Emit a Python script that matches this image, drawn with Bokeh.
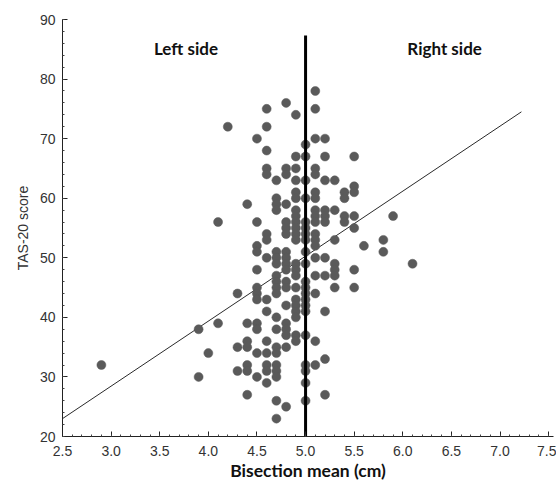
import numpy as np
from bokeh.plotting import figure
from bokeh.models import Range1d, FixedTicker, NumeralTickFormatter
from bokeh.core.properties import value
from bokeh.embed import file_html
from bokeh.resources import INLINE

# ---- data ----
col_x = [2.9, 3.9, 4.0, 4.1, 4.2, 4.3, 4.4, 4.5, 4.6, 4.7, 4.8, 4.9, 5.0, 5.1, 5.2, 5.3, 5.4, 5.5, 5.6, 5.8, 5.9, 6.1]
col_y = [
    [32],
    [38, 30],
    [34],
    [56, 39],
    [72],
    [44, 35, 31],
    [59, 39, 36, 35, 32, 31, 27],
    [70, 56, 52, 51, 48, 45, 44, 43, 39, 38, 34, 30],
    [75, 72, 68, 65, 64, 54, 53, 50, 43, 41, 36, 34, 32, 31, 29],
    [63, 60, 59, 58, 51, 50, 49, 47, 46, 45, 44, 40, 38, 35, 34, 32, 31, 30, 26, 23],
    [76, 65, 64, 59, 56, 55, 54, 51, 50, 49, 48, 46, 45, 42, 39, 38, 37, 35, 25],
    [74, 67, 65, 63, 61, 60, 58, 57, 56, 55, 54, 53, 49, 48, 47, 45, 43, 42, 41, 40, 37, 36],
    [69, 67, 63, 60, 56, 55, 54, 53, 51, 49, 46, 45, 44, 43, 42, 41, 37, 32, 31, 29, 26],
    [78, 75, 70, 65, 64, 61, 60, 58, 57, 56, 54, 53, 52, 50, 47, 44, 36, 32],
    [70, 67, 63, 58, 57, 56, 50, 47, 41, 33, 27],
    [63, 58, 53, 49, 48, 47, 45],
    [61, 60, 57, 56],
    [67, 62, 61, 57, 55, 48, 45],
    [52],
    [53, 51],
    [57],
    [49],
]
fit_x = [2.5, 7.22]
fit_y = [23.0, 74.5]
divide_x = 5.0
divide_top = 87.3
x_ticks = [2.5, 3.0, 3.5, 4.0, 4.5, 5.0, 5.5, 6.0, 6.5, 7.0, 7.5]
y_ticks = [20, 30, 40, 50, 60, 70, 80, 90]
side_labels = ["Left side", "Right side"]
side_label_x = [3.77, 6.43]
side_label_y = [85.1, 85.1]

xs, ys = [], []
for cx, cys in zip(col_x, col_y):
    for cy in cys:
        xs.append(cx)
        ys.append(cy)

p = figure(width=556, height=485, output_backend="svg", toolbar_location=None,
           x_range=Range1d(2.5, 7.55), y_range=Range1d(20, 90),
           min_border_left=62, min_border_right=3, min_border_top=19, min_border_bottom=49)
p.outline_line_color = None
p.xgrid.visible = False
p.ygrid.visible = False
p.background_fill_color = "white"
p.border_fill_color = "white"

# regression line
p.line(fit_x, fit_y, line_color="#2a2a2a", line_width=1)

# points
p.scatter(xs, ys, size=9, fill_color="#5a5a5a", line_color="#5a5a5a", line_width=0.5)

# dividing line
p.segment(x0=[divide_x], y0=[20], x1=[divide_x], y1=[divide_top], line_color="black", line_width=3)

# side labels
p.text(x=side_label_x, y=side_label_y, text=side_labels, text_font=value("Lato"),
       text_font_style="bold", text_font_size="17px", text_align="center",
       text_baseline="middle", text_color="#111111")

# axes
xmin = np.round(np.arange(2.5, 7.55, 0.1), 2).tolist()
ymin = list(range(20, 91, 2))
p.xaxis.ticker = FixedTicker(ticks=x_ticks, minor_ticks=xmin)
p.yaxis.ticker = FixedTicker(ticks=y_ticks, minor_ticks=ymin)
p.xaxis.formatter = NumeralTickFormatter(format="0.0")

for ax in (p.xaxis[0], p.yaxis[0]):
    ax.axis_line_color = "#222222"
    ax.axis_line_width = 1
    ax.major_tick_in = 5
    ax.major_tick_out = 0
    ax.minor_tick_in = 2
    ax.minor_tick_out = 0
    ax.major_tick_line_color = "#222222"
    ax.minor_tick_line_color = "#444444"
    ax.major_label_text_font = "Arial"
    ax.major_label_text_font_size = "14px"
    ax.major_label_text_color = "#333333"

p.yaxis.major_label_standoff = 7
p.xaxis.major_label_standoff = 9
p.yaxis.axis_label = "TAS-20 score"
p.yaxis.axis_label_text_font = "Arial"
p.yaxis.axis_label_text_font_size = "14px"
p.yaxis.axis_label_text_font_style = "normal"
p.yaxis.axis_label_text_color = "#333333"
p.yaxis.axis_label_standoff = 6

p.xaxis.axis_label = "Bisection mean (cm)"
p.xaxis.axis_label_text_font = "Lato"
p.xaxis.axis_label_text_font_size = "17.5px"
p.xaxis.axis_label_text_font_style = "bold"
p.xaxis.axis_label_text_color = "#111111"
p.xaxis.axis_label_standoff = 1

open("out.html", "w").write(file_html(p, INLINE))
